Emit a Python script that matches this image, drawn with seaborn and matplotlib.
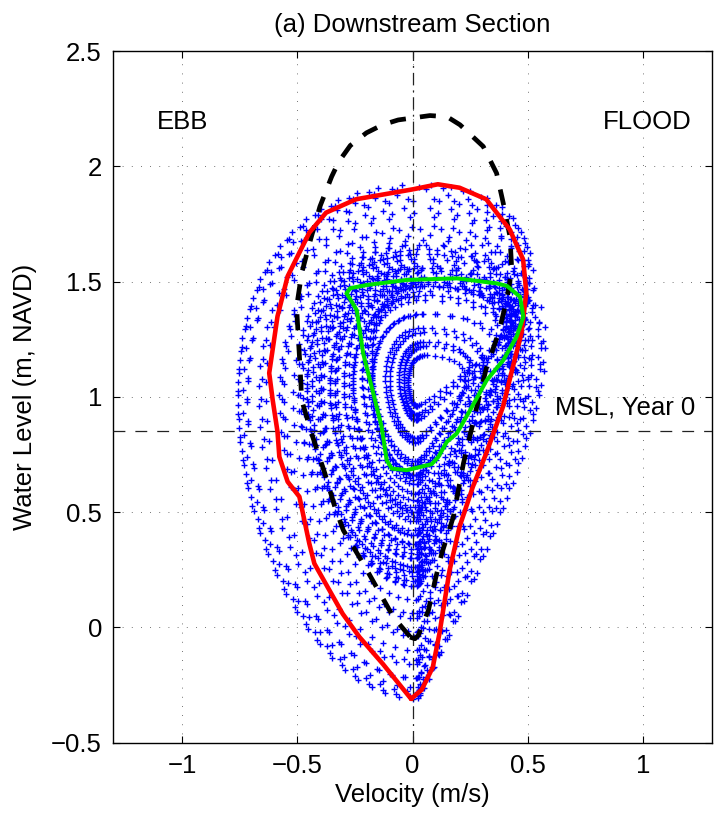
import numpy as np
import pandas as pd
import matplotlib
matplotlib.use("Agg")
import matplotlib.pyplot as plt
import seaborn as sns

# ---------------------------------------------------------------------------
# Tidal record: each cycle is an ebb leg (high_water[i] -> low_water[i])
# followed by a flood leg (low_water[i] -> high_water[i + 1]).
# Levels in m NAVD, peak speeds in m/s.
# ---------------------------------------------------------------------------
high_water = [1.90, 1.62, 1.92, 1.60, 1.86, 1.57, 1.80, 1.55, 1.73, 1.52,
              1.66, 1.49, 1.60, 1.44, 1.54, 1.36, 1.50, 1.28, 1.48, 1.22,
              1.50, 1.18, 1.46, 1.24, 1.48, 1.30, 1.52, 1.36, 1.56, 1.44,
              1.62, 1.50, 1.70, 1.56, 1.78, 1.62, 1.85, 1.66, 1.91, 1.68,
              1.88, 1.64, 1.82, 1.58, 1.74, 1.54, 1.64, 1.48, 1.56, 1.42,
              1.48]
low_water = [-0.30, 0.22, -0.28, 0.26, -0.22, 0.30, -0.14, 0.36, -0.04, 0.42,
             0.06, 0.48, 0.18, 0.55, 0.34, 0.64, 0.50, 0.82, 0.66, 0.92,
             0.72, 0.96, 0.70, 0.90, 0.62, 0.80, 0.50, 0.66, 0.36, 0.52,
             0.20, 0.40, 0.04, 0.30, -0.10, 0.24, -0.22, 0.20, -0.31, 0.18,
             -0.26, 0.24, -0.16, 0.32, -0.02, 0.40, 0.12, 0.46, 0.26, 0.58]
peak_ebb = [0.80, 0.48, 0.80, 0.46, 0.76, 0.43, 0.70, 0.40, 0.62, 0.37,
            0.56, 0.34, 0.48, 0.30, 0.40, 0.22, 0.30, 0.14, 0.24, 0.08,
            0.22, 0.06, 0.22, 0.10, 0.26, 0.16, 0.32, 0.22, 0.40, 0.30,
            0.50, 0.38, 0.60, 0.45, 0.68, 0.50, 0.76, 0.52, 0.80, 0.54,
            0.78, 0.50, 0.71, 0.44, 0.61, 0.38, 0.53, 0.34, 0.44, 0.26]
peak_flood = [0.52, 0.46, 0.51, 0.44, 0.47, 0.43, 0.46, 0.41, 0.44, 0.39,
              0.42, 0.39, 0.40, 0.38, 0.38, 0.32, 0.26, 0.36, 0.22, 0.38,
              0.18, 0.40, 0.20, 0.38, 0.26, 0.36, 0.32, 0.38, 0.38, 0.40,
              0.41, 0.42, 0.44, 0.44, 0.47, 0.46, 0.51, 0.46, 0.53, 0.48,
              0.50, 0.45, 0.47, 0.42, 0.44, 0.40, 0.41, 0.38, 0.38, 0.36]

# slack-water velocities at high and low water (m/s)
slack_hw, slack_lw = 0.06, 0.02
ebb_hours, flood_hours, step_hours = 6.9, 5.52, 0.2
ebb_skew, flood_skew = 0.84, 1.8

# Envelope curves (velocity, level)
red_u = [-0.006, -0.129, -0.230, -0.303, -0.426, -0.448, -0.491, -0.542,
         -0.578, -0.586, -0.607, -0.622, -0.586, -0.542, -0.448, -0.375,
         -0.245, 0.001, 0.110, 0.204, 0.320, 0.422, 0.480, 0.494, 0.473,
         0.436, 0.393, 0.320, 0.262, 0.204, 0.161, 0.117, 0.088, 0.040, -0.006]
red_h = [-0.310, -0.158, -0.042, 0.059, 0.277, 0.364, 0.567, 0.632,
         0.740, 0.849, 0.987, 1.103, 1.349, 1.523, 1.712, 1.799,
         1.857, 1.900, 1.922, 1.907, 1.857, 1.726, 1.596, 1.451, 1.277,
         1.132, 0.958, 0.755, 0.610, 0.436, 0.248, -0.026, -0.173, -0.270, -0.310]

dash_u = [-0.011, -0.083, -0.214, -0.300, -0.337, -0.380, -0.438, -0.481,
          -0.488, -0.496, -0.503, -0.481, -0.445, -0.402, -0.351, -0.320,
          -0.270, -0.200, -0.130, -0.062, 0.076, 0.150, 0.206, 0.307, 0.365,
          0.394, 0.423, 0.431, 0.409, 0.373, 0.322, 0.286, 0.221, 0.177,
          0.127, 0.098, 0.069, 0.025, 0.011, -0.011]
dash_h = [-0.040, 0.045, 0.277, 0.421, 0.522, 0.667, 0.841, 0.986,
          1.130, 1.261, 1.391, 1.536, 1.673, 1.825, 1.955, 2.020,
          2.090, 2.145, 2.180, 2.201, 2.220, 2.215, 2.180, 2.086, 1.970,
          1.840, 1.695, 1.550, 1.420, 1.275, 1.130, 0.986, 0.711, 0.479,
          0.320, 0.204, 0.074, -0.035, -0.049, -0.042]

green_u = [-0.286, -0.264, -0.242, -0.214, -0.170, -0.134, -0.112, -0.090,
           -0.025, 0.083, 0.112, 0.149, 0.192, 0.250, 0.322, 0.394, 0.452,
           0.481, 0.467, 0.410, 0.366, 0.192, -0.025, -0.199, -0.271, -0.286]
green_h = [1.449, 1.413, 1.376, 1.188, 1.015, 0.870, 0.725, 0.689,
           0.682, 0.708, 0.739, 0.805, 0.841, 0.942, 1.072, 1.159, 1.261,
           1.347, 1.434, 1.481, 1.492, 1.514, 1.507, 1.485, 1.471, 1.449]

msl_year0 = 0.85

x_ticks = [-1, -0.5, 0, 0.5, 1]
y_ticks = [-0.5, 0, 0.5, 1, 1.5, 2, 2.5]

# ---------------------------------------------------------------------------
# Sample the record every step_hours along the ebb/flood legs
# ---------------------------------------------------------------------------
vel, lev = [], []
t0, first = 0.0, 0.0
for i in range(len(low_water)):
    hw0, lw, hw1 = high_water[i], low_water[i], high_water[i + 1]
    # ebb leg
    ts = np.arange(first, t0 + ebb_hours - 1e-9, step_hours)
    s = (ts - t0) / ebb_hours
    lev.append(lw + (hw0 - lw) * (1 + np.cos(np.pi * s)) / 2)
    vel.append(-peak_ebb[i] * np.sin(np.pi * s ** ebb_skew)
               + slack_hw * (1 - s) + slack_lw * s)
    t0 += ebb_hours
    first = ts[-1] + step_hours
    # flood leg
    ts = np.arange(first, t0 + flood_hours - 1e-9, step_hours)
    s = (ts - t0) / flood_hours
    lev.append(lw + (hw1 - lw) * (1 - np.cos(np.pi * s)) / 2)
    vel.append(peak_flood[i] * np.sin(np.pi * s ** flood_skew)
               + slack_lw * (1 - s) + slack_hw * s)
    t0 += flood_hours
    first = ts[-1] + step_hours

obs = pd.DataFrame({"velocity": np.concatenate(vel),
                    "level": np.concatenate(lev)})

# ---------------------------------------------------------------------------
sns.set_style("ticks")
plt.rcParams["font.family"] = ["Liberation Sans", "DejaVu Sans"]
plt.rcParams.update({"text.color": "black", "axes.labelcolor": "black",
                     "xtick.color": "black", "ytick.color": "black"})
FS = 18.5

fig = plt.figure(figsize=(7.15, 8.16), dpi=100)
ax = fig.add_axes([113 / 715, 1 - 742.7 / 816, 599 / 715, 691.7 / 816])

sns.scatterplot(data=obs, x="velocity", y="level", marker="+", color="#0000ff",
                s=24, linewidth=1.0, ax=ax, zorder=2, legend=False)

ax.axvline(0, color="#222222", lw=0.9, ls=(0, (10, 4, 1.5, 4)), zorder=3)
ax.axhline(msl_year0, color="#222222", lw=0.9, ls=(0, (9.5, 8)), zorder=3)

ax.plot(dash_u, dash_h, color="black", lw=3.4, ls=(0, (3.4, 3.0)), zorder=4)
ax.plot(red_u, red_h, color="#ff0000", lw=3.3, zorder=5, solid_joinstyle="round")
ax.plot(green_u, green_h, color="#00e000", lw=2.9, zorder=6, solid_joinstyle="round")

ax.text(-1.0, 2.19, "EBB", fontsize=FS, ha="center", va="center")
ax.text(1.02, 2.19, "FLOOD", fontsize=FS, ha="center", va="center")
ax.text(0.62, 0.955, "MSL, Year 0", fontsize=FS, ha="left", va="center")

ax.set_xlim(-1.3, 1.3)
ax.set_ylim(-0.5, 2.5)
ax.set_xticks(x_ticks)
ax.set_yticks(y_ticks)
ax.set_xticklabels([f"{v:g}".replace("-", "\u2212") for v in x_ticks])
ax.set_yticklabels([f"{v:g}".replace("-", "\u2212") for v in y_ticks])
ax.grid(True, color="#444444", lw=0.6, ls=(0, (1, 10)))
ax.tick_params(direction="in", top=True, right=True, length=5, width=0.8,
               labelsize=FS, pad=8)
for sp in ax.spines.values():
    sp.set_linewidth(1.0)
    sp.set_color("black")

ax.set_xlabel("Velocity (m/s)", fontsize=FS, labelpad=4)
ax.set_ylabel("Water Level (m, NAVD)", fontsize=FS, labelpad=10)
ax.set_title("(a) Downstream Section", fontsize=FS, pad=14)

fig.savefig("out.png", dpi=100)
